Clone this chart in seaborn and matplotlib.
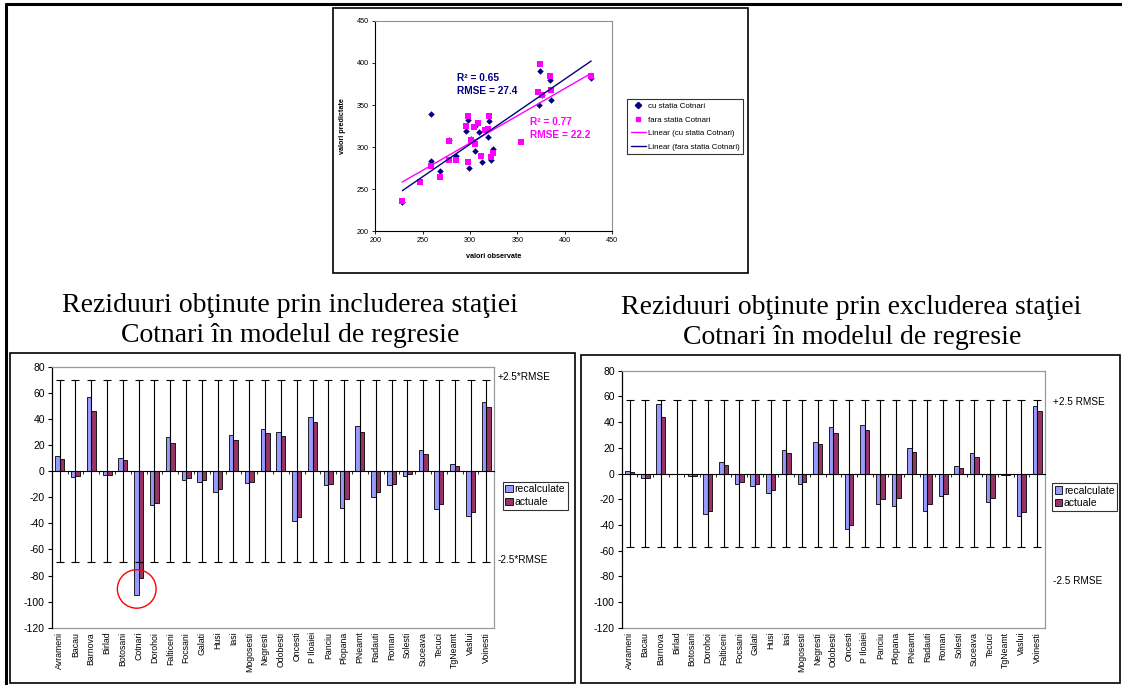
import numpy as np
import pandas as pd
import matplotlib
matplotlib.use("Agg")
import matplotlib.pyplot as plt
import seaborn as sns
from matplotlib.patches import Rectangle, Ellipse, Patch
from matplotlib.lines import Line2D

# ---------------- data ----------------
# scatter: observed vs predicted
obs_cu = [228.5, 258.4, 259.0, 268.6, 277.7, 285.0, 296.0, 297.4, 298.8, 300.6, 304.8, 305.0,
          309.0, 312.5, 319.0, 320.6, 322.7, 324.5, 372.6, 374.4, 375.8, 385.0, 385.3, 428.0]
pred_cu = [235.0, 339.7, 283.0, 271.0, 308.7, 289.0, 319.0, 332.0, 275.0, 309.0, 295.0, 325.0,
           317.5, 282.5, 311.5, 331.0, 285.0, 297.6, 350.4, 391.0, 362.0, 380.0, 356.0, 381.7]
obs_fara = [228.5, 247.5, 258.7, 268.2, 277.7, 277.7, 285.0, 295.6, 297.4, 298.0, 300.6, 304.8,
            304.4, 308.6, 312.0, 316.0, 319.0, 320.6, 322.7, 323.8, 354.4, 372.3, 374.4, 375.8,
            384.6, 385.3, 427.8]
pred_fara = [236.0, 258.7, 277.4, 264.0, 307.0, 284.0, 284.5, 324.6, 337.0, 282.5, 308.0, 303.0,
             324.0, 328.0, 289.7, 320.0, 321.4, 337.0, 287.7, 292.5, 305.5, 365.0, 398.4, 362.0,
             385.0, 367.5, 384.5]
# trend lines (slope, intercept)
trend_pink = (0.6486, 110.1)   # Linear (cu statia Cotnari)
trend_navy = (0.774, 71.1)     # Linear (fara statia Cotnari)
r2_labels = ["R\u00b2 = 0.65", "RMSE = 27.4", "R\u00b2 = 0.77", "RMSE = 22.2"]

# residuals - model including Cotnari
stations_incl = ["Avrameni", "Bacau", "Barnova", "Birlad", "Botosani", "Cotnari", "Dorohoi",
                 "Falticeni", "Focsani", "Galati", "Husi", "Iasi", "Mogosesti", "Negresti",
                 "Odobesti", "Oncesti", "P Iloaiei", "Panciu", "Plopana", "PNeamt", "Radauti",
                 "Roman", "Solesti", "Suceava", "Tecuci", "TgNeamt", "Vaslui", "Voinesti"]
recalc_incl = [11.7, -4.9, 56.7, -3.3, 9.7, -95.3, -25.8, 26.3, -6.6, -8.7, -16.3, 27.8, -9.5, 31.9,
               30.1, -38.3, 41.1, -11.0, -28.1, 34.2, -20.2, -11.0, -4.1, 16.1, -29.1, 5.1, -34.7, 53.1]
actual_incl = [9.5, -4.1, 46.0, -2.8, 8.2, -81.7, -24.3, 21.5, -5.6, -6.6, -13.5, 23.8, -8.7, 28.9,
               26.6, -35.0, 37.5, -9.7, -21.5, 29.6, -16.3, -10.2, -2.6, 13.3, -25.0, 3.8, -31.7, 49.0]
band_incl = 70.0

# residuals - model excluding Cotnari
stations_excl = ["Avrameni", "Bacau", "Barnova", "Birlad", "Botosani", "Dorohoi",
                 "Falticeni", "Focsani", "Galati", "Husi", "Iasi", "Mogosesti", "Negresti",
                 "Odobesti", "Oncesti", "P Iloaiei", "Panciu", "Plopana", "PNeamt", "Radauti",
                 "Roman", "Solesti", "Suceava", "Tecuci", "TgNeamt", "Vaslui", "Voinesti"]
recalc_excl = [1.6, -3.6, 53.7, 0.0, -2.3, -31.4, 8.8, -7.8, -10.1, -14.8, 18.4, -7.8, 24.9, 35.8,
               -43.3, 37.4, -23.9, -25.2, 20.2, -29.3, -17.6, 6.2, 15.6, -22.3, -1.3, -32.7, 52.9]
actual_excl = [0.8, -3.2, 43.6, 0.0, -2.0, -29.3, 7.0, -6.5, -8.0, -12.7, 15.6, -7.0, 22.6, 31.4,
               -39.7, 33.5, -19.7, -18.9, 16.6, -23.9, -15.8, 4.2, 13.2, -18.9, -0.8, -29.8, 49.0]
band_excl = 57.0

series_names = ["recalculate", "actuale"]
bar_colors = ["#9999FF", "#993366"]

# ---------------- figure ----------------
W, H = 1122, 685
sns.set_theme(style="ticks")
plt.rcParams["font.family"] = ["Liberation Sans", "DejaVu Sans"]
plt.rcParams["axes.unicode_minus"] = False
for k in ["text.color", "axes.labelcolor", "xtick.color", "ytick.color", "axes.edgecolor"]:
    plt.rcParams[k] = "black"

fig = plt.figure(figsize=(W / 100, H / 100), dpi=100)
fig.patch.set_facecolor("white")


def rect(x0, y0, x1, y1):
    return [x0 / W, 1 - y1 / H, (x1 - x0) / W, (y1 - y0) / H]


def fx(x):
    return x / W


def fy(y):
    return 1 - y / H


def fig_line(x0, y0, x1, y1, lw=1.0, color="black"):
    fig.add_artist(Line2D([fx(x0), fx(x1)], [fy(y0), fy(y1)], transform=fig.transFigure,
                          color=color, lw=lw, solid_capstyle="butt"))


def fig_box(x0, y0, x1, y1, lw=1.2, color="black"):
    fig.add_artist(Rectangle((fx(x0), fy(y1)), (x1 - x0) / W, (y1 - y0) / H,
                             transform=fig.transFigure, fill=False, lw=lw, edgecolor=color))


# outer table lines
fig_line(5, 4, 1122, 4, lw=2.2)
fig_line(6, 3, 6, 685, lw=2.2)

# chart boxes
fig_box(332.5, 8, 748, 272.5, lw=1.2)
fig_box(10, 353, 575, 683, lw=1.2)
fig_box(581, 355, 1120, 683, lw=1.2)

# ---------------- scatter ----------------
axs = fig.add_axes(rect(375.3, 21, 612, 231))
sns.scatterplot(x=obs_cu, y=pred_cu, marker="D", color="#000080", s=11, linewidth=0, ax=axs, zorder=3)
sns.scatterplot(x=obs_fara, y=pred_fara, marker="s", color="#FF00FF", s=13, linewidth=0, ax=axs, zorder=3)
xs_line = np.array([min(obs_cu), max(obs_cu)])
sns.lineplot(x=xs_line, y=trend_pink[0] * xs_line + trend_pink[1], color="#FF00FF", lw=1.0, ax=axs, zorder=4)
sns.lineplot(x=xs_line, y=trend_navy[0] * xs_line + trend_navy[1], color="#000080", lw=1.0, ax=axs, zorder=4)
axs.set_xlim(200, 450)
axs.set_ylim(200, 450)
axs.set_xticks(range(200, 451, 50))
axs.set_yticks(range(200, 451, 50))
axs.tick_params(labelsize=5.2, length=2.5, width=0.6, pad=2, color="black")
for s in ["left", "bottom"]:
    axs.spines[s].set_color("black")
    axs.spines[s].set_linewidth(0.8)
for s in ["top", "right"]:
    axs.spines[s].set_visible(True)
    axs.spines[s].set_color("#909090")
    axs.spines[s].set_linewidth(0.8)
axs.set_xlabel("valori observate", fontsize=5.2, fontweight="bold", labelpad=6)
axs.set_ylabel("valori predictate", fontsize=5.2, fontweight="bold", labelpad=8)
axs.text(286.3, 382, r2_labels[0], color="#000080", fontsize=7.3, fontweight="bold", va="center")
axs.text(286.3, 366.5, r2_labels[1], color="#000080", fontsize=7.3, fontweight="bold", va="center")
axs.text(363.4, 329.8, r2_labels[2], color="#FF00FF", fontsize=7.3, fontweight="bold", va="center")
axs.text(363.4, 314.5, r2_labels[3], color="#FF00FF", fontsize=7.3, fontweight="bold", va="center")

sc_handles = [
    Line2D([], [], marker="D", color="#000080", linestyle="None", markersize=3.2, label="cu statia Cotnari"),
    Line2D([], [], marker="s", color="#FF00FF", linestyle="None", markersize=3.4, label="fara statia Cotnari"),
    Line2D([], [], color="#FF00FF", lw=1.0, label="Linear (cu statia Cotnari)"),
    Line2D([], [], color="#000080", lw=1.0, label="Linear (fara statia Cotnari)"),
]
leg = fig.legend(handles=sc_handles, loc="upper left", bbox_to_anchor=(fx(627), fy(99)),
                 fontsize=5.7, frameon=True, fancybox=False, edgecolor="black",
                 handlelength=2.0, handletextpad=0.2, borderpad=0.45, labelspacing=0.75,
                 borderaxespad=0)
leg.get_frame().set_linewidth(0.8)


# ---------------- bar panels ----------------
def bar_panel(box, cats, rec, act, band, plus_txt, minus_txt, plus_xy, minus_xy, leg_xy):
    ax = fig.add_axes(rect(*box))
    n = len(cats)
    df = pd.DataFrame({
        "statia": list(cats) * 2,
        "valoare": list(rec) + list(act),
        "serie": [series_names[0]] * n + [series_names[1]] * n,
    })
    sns.barplot(data=df, x="statia", y="valoare", hue="serie", hue_order=series_names,
                palette=bar_colors, saturation=1, width=0.57, edgecolor="black",
                linewidth=0.6, ax=ax, legend=False, zorder=2)
    ax.errorbar(np.arange(n), np.zeros(n), yerr=band, fmt="none", ecolor="black",
                elinewidth=0.8, capsize=2.8, capthick=0.8, zorder=3)
    ax.set_xlim(-0.5, n - 0.5)
    ax.set_ylim(-120, 80)
    ax.set_yticks(range(-120, 81, 20))
    ax.set_xlabel("")
    ax.set_ylabel("")
    ax.tick_params(axis="y", labelsize=7.5, length=3, width=0.8, pad=2, color="black")
    # category axis at zero with boundary ticks
    ax.spines["bottom"].set_position(("data", 0))
    ax.spines["bottom"].set_color("black")
    ax.spines["bottom"].set_linewidth(0.8)
    ax.set_xticks(np.arange(n + 1) - 0.5)
    ax.set_xticklabels([])
    ax.tick_params(axis="x", length=2.5, width=0.6, color="black", direction="out")
    ax.spines["left"].set_color("black")
    ax.spines["left"].set_linewidth(0.9)
    for s in ["top", "right"]:
        ax.spines[s].set_visible(True)
        ax.spines[s].set_color("#9a9a9a")
        ax.spines[s].set_linewidth(0.9)
    ax.set_zorder(1)
    # labels at the bottom of the plot area
    sec = ax.secondary_xaxis("bottom")
    sec.set_xticks(np.arange(n))
    sec.set_xticklabels(cats, rotation=90, fontsize=6.3)
    sec.tick_params(length=0, pad=3)
    sec.spines["bottom"].set_color("#9a9a9a")
    sec.spines["bottom"].set_linewidth(0.9)
    fig.text(fx(plus_xy[0]), fy(plus_xy[1]), plus_txt, fontsize=7.2, va="center", ha="left")
    fig.text(fx(minus_xy[0]), fy(minus_xy[1]), minus_txt, fontsize=7.2, va="center", ha="left")
    handles = [Patch(facecolor=c, edgecolor="black", linewidth=0.6, label=l)
               for c, l in zip(bar_colors, series_names)]
    lg = fig.legend(handles=handles, loc="upper left", bbox_to_anchor=(fx(leg_xy[0]), fy(leg_xy[1])),
                    fontsize=7.5, frameon=True, fancybox=False, edgecolor="black",
                    handlelength=0.7, handleheight=0.7, handletextpad=0.2, borderpad=0.25,
                    labelspacing=0.25, borderaxespad=0)
    lg.get_frame().set_linewidth(0.8)
    return ax


axl = bar_panel((51.7, 366.7, 494.3, 627.7), stations_incl, recalc_incl, actual_incl, band_incl,
                "+2.5*RMSE", "-2.5*RMSE", (498, 377), (498, 560), (502.7, 481.7))
# red circle around Cotnari
axl.add_patch(Ellipse((4.88, -90.3), 2.45, 29.5, fill=False, edgecolor="red", lw=1.0, zorder=5))

axr = bar_panel((621.7, 370.7, 1045, 627.7), stations_excl, recalc_excl, actual_excl, band_excl,
                "+2.5 RMSE", "-2.5 RMSE", (1053, 402), (1053, 581), (1052, 483))

# ---------------- titles ----------------
serif = ["Liberation Serif", "DejaVu Serif"]
fig.text(fx(290), fy(312), "Reziduuri ob\u0163inute prin includerea sta\u0163iei", family=serif,
         fontsize=20, ha="center", va="baseline", color="black")
fig.text(fx(290), fy(342), "Cotnari \u00een modelul de regresie", family=serif,
         fontsize=20, ha="center", va="baseline", color="black")
fig.text(fx(851), fy(314), "Reziduuri ob\u0163inute prin excluderea sta\u0163iei", family=serif,
         fontsize=20, ha="center", va="baseline", color="black")
fig.text(fx(852), fy(344), "Cotnari \u00een modelul de regresie", family=serif,
         fontsize=20, ha="center", va="baseline", color="black")

fig.savefig("out.png", dpi=100, facecolor="white")
